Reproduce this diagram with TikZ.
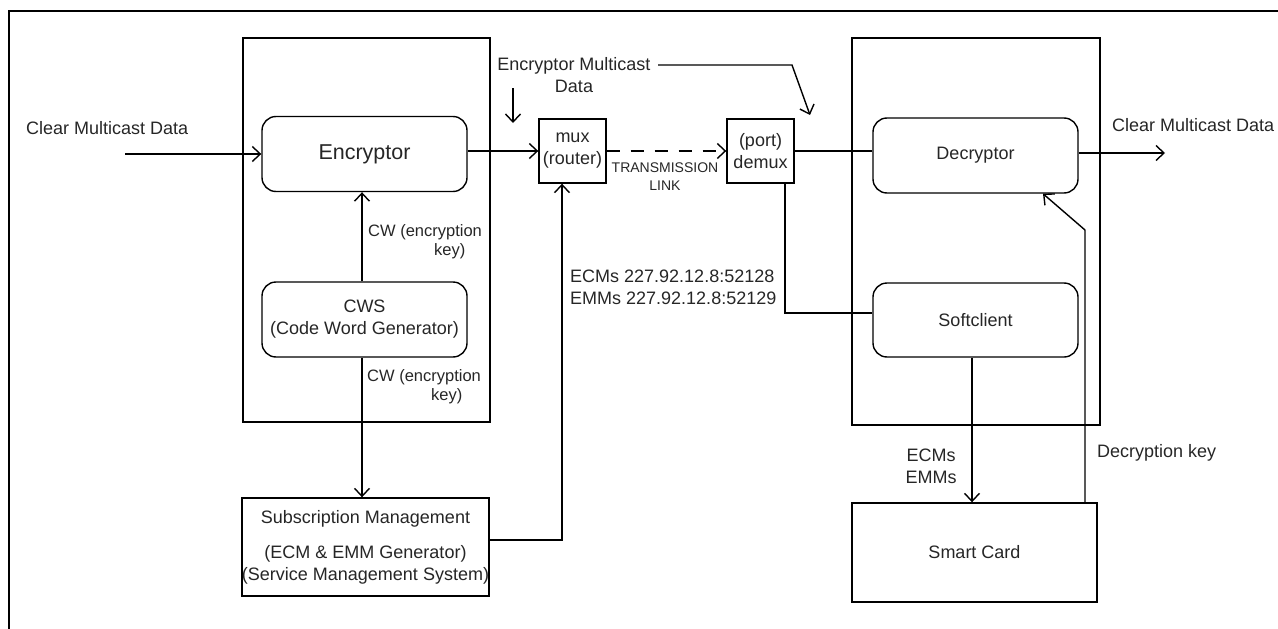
\documentclass[tikz,border=0pt]{standalone}
\usepackage{fontspec}
\setmainfont{Liberation Sans}
\usetikzlibrary{arrows.meta}
\begin{document}
\begin{tikzpicture}[x=1pt,y=-1pt,
  every node/.style={font=\fontsize{18}{22}\selectfont, inner sep=0pt, text=black!85},
  grp/.style={draw, line width=1.4pt},
  rbox/.style={draw, line width=1.4pt, rounded corners=14pt},
  sbox/.style={draw, line width=1.4pt},
  conn/.style={line width=1.4pt},
  arr/.style={conn, -{Straight Barb[length=8pt,width=15pt,line width=1.4pt]}},
  lbl/.style={align=left},
  small/.style={font=\fontsize{16.5}{19.5}\selectfont}
]
\useasboundingbox (0,0) rectangle (1278,629);
% outer frame
\draw[line width=2.6pt] (9,629) -- (9,11) -- (1278,11);

% group boxes
\node[grp, minimum width=247pt, minimum height=384pt] (lgrp) at (366.5,230) {};
\node[grp, minimum width=248pt, minimum height=387pt] (rgrp) at (976,231.5) {};

% main nodes
\node[rbox, fill=white, minimum width=205pt, minimum height=75pt] (enc) at (364.5,154) {\fontsize{21.5}{26}\selectfont Encryptor};
\node[rbox, fill=white, minimum width=205pt, minimum height=75pt, align=center] (cws) at (364.5,319.5) {CWS\\(Code Word Generator)};
\node[sbox, fill=white, minimum width=245pt, minimum height=98pt, align=center] (sub) at (365.5,547) {Subscription Management\\[13pt](ECM \& EMM Generator)\\(Service Management System)};
\node[sbox, fill=white, minimum width=67pt, minimum height=64pt, align=center] (mux) at (572.5,151) {mux\\(router)};
\node[sbox, fill=white, minimum width=67pt, minimum height=64pt, align=center] (demux) at (760.5,151) {(port)\\demux};
\node[rbox, fill=white, minimum width=205pt, minimum height=75pt] (dec) at (975.5,155.5) {Decryptor};
\node[rbox, fill=white, minimum width=205pt, minimum height=74pt] (soft) at (975.5,320) {Softclient};
\node[sbox, fill=white, minimum width=245pt, minimum height=99pt] (smart) at (974.5,552.5) {Smart Card};

% labels
\node[anchor=west] (clin) at (26,128) {Clear Multicast Data};
\node[anchor=west] (clout) at (1112,125) {Clear Multicast Data};
\node[align=center] (emd) at (574,75) {Encryptor Multicast\\Data};
\node[lbl, small, anchor=north west] (cw1) at (368,224) {CW (encryption\\\hspace*{66pt}key)};
\node[lbl, small, anchor=north west] (cw2) at (367,369) {CW (encryption\\\hspace*{64pt}key)};
\node[lbl, anchor=north west] (ecm) at (570,270) {ECMs 227.92.12.8:52128\\EMMs 227.92.12.8:52129};
\node[align=center, font=\fontsize{14}{18}\selectfont] (tl) at (665,177) {TRANSMISSION\\LINK};
\node[align=center] (ecm2) at (931,466) {ECMs\\EMMs};
\node[anchor=west] (dk) at (1097,453) {Decryption key};

% helper coordinates
\coordinate (cin) at (125,154);
\coordinate (cout) at (1165,153);
\coordinate (e1) at (658,65);
\coordinate (e2) at (792,65);
\coordinate (e3) at (810,115);
\coordinate (s1) at (513,88);
\coordinate (s2) at (513,123);
\coordinate (vx) at (362,0);
\coordinate (my) at (562,540);
\coordinate (dx) at (785,313);
\coordinate (scx) at (972,0);
\coordinate (dk1) at (1085,230);
\coordinate (dkt) at (1043,0);

% connectors
\draw[arr] (cin) -- (enc.west |- cin);
\draw[arr] (enc.east |- mux.west) -- (mux.west);
\draw[arr, dash pattern=on 13pt off 11pt] (mux.east) -- (demux.west);
\draw[conn] (demux.east) -- (dec.west |- demux.east);
\draw[arr] (dec.east |- cout) -- (cout);
\draw[arr] (cws.north -| vx) -- (enc.south -| vx);
\draw[arr] (cws.south -| vx) -- (sub.north -| vx);
\draw[arr] (sub.east |- my) -- (my) -- (mux.south -| my);
\draw[conn] (demux.south -| dx) -- (dx) -- (soft.west |- dx);
\draw[arr] (soft.south -| scx) -- (smart.north -| scx);
\draw[arr] (smart.north -| dk1) -- (dk1) -- (dec.south -| dkt);
\draw[arr] (e1) -- (e2) -- (e3);
\draw[arr] (s1) -- (s2);
\end{tikzpicture}
\end{document}
